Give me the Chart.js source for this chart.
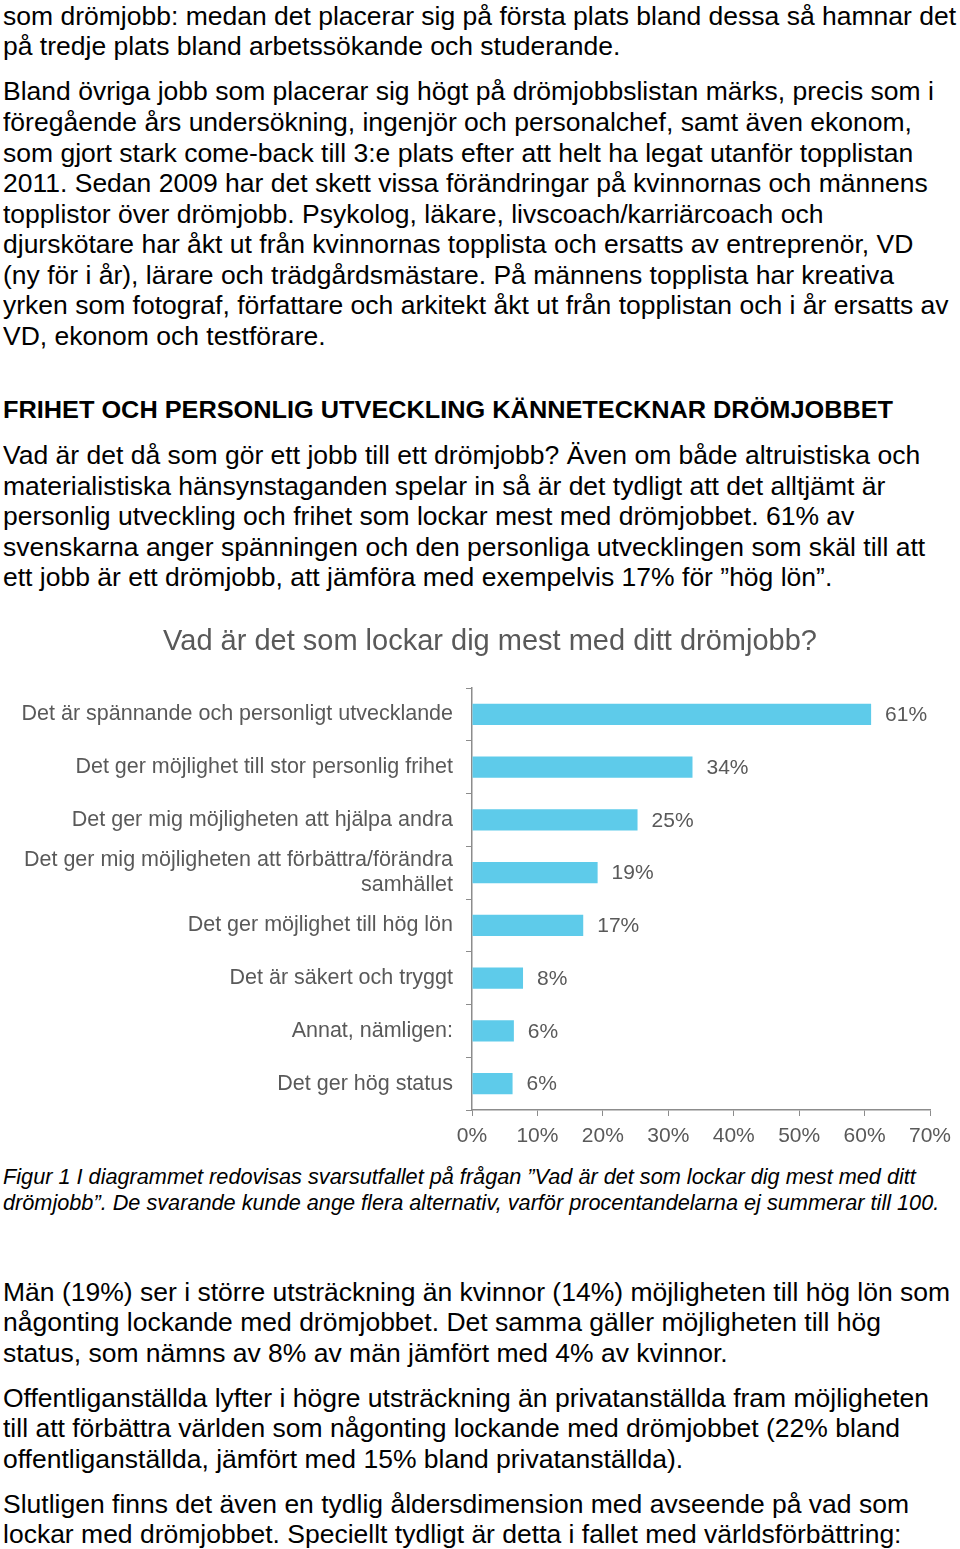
<!DOCTYPE html>
<html>
<head>
<meta charset="utf-8">
<script src="https://cdn.jsdelivr.net/npm/chart.js@4/dist/chart.umd.min.js"></script>
<style>
  html, body { margin: 0; padding: 0; background: #fff; }
  body { width: 960px; height: 1549px; position: relative; overflow: hidden; font-family: "Liberation Sans", Arial, sans-serif; color: #000; }
  .ln { position: absolute; left: 3px; white-space: nowrap; font-size: 25px; line-height: 30px; height: 30px; transform: scaleX(1.06); transform-origin: 0 50%; }
  .hd { font-weight: bold; font-size: 23.5px; transform: scaleX(1.077); }
  .cap { font-style: italic; font-size: 21.7px; transform: none; }
  #chartBox { position: absolute; left: 0; top: 615px; width: 960px; height: 545px; }
</style>
</head>
<body>
<div id="text"></div>
<div id="chartBox"><canvas id="c"></canvas></div>
<script>
// ---- Chart data ----
const chartTitle = "Vad är det som lockar dig mest med ditt drömjobb?";
const categories = [
  "Det är spännande och personligt utvecklande",
  "Det ger möjlighet till stor personlig frihet",
  "Det ger mig möjligheten att hjälpa andra",
  ["Det ger mig möjligheten att förbättra/förändra", "samhället"],
  "Det ger möjlighet till hög lön",
  "Det är säkert och tryggt",
  "Annat, nämligen:",
  "Det ger hög status"
];
const shares = [61, 33.7, 25.3, 19.2, 17, 7.8, 6.4, 6.2];
const shareLabels = ["61%", "34%", "25%", "19%", "17%", "8%", "6%", "6%"];
const xTicks = [0, 10, 20, 30, 40, 50, 60, 70];

// ---- Page text (line by line, [centerY, text, class]) ----
const lines = [
  [16, "som drömjobb: medan det placerar sig på första plats bland dessa så hamnar det"],
  [46, "på tredje plats bland arbetssökande och studerande."],
  [91, "Bland övriga jobb som placerar sig högt på drömjobbslistan märks, precis som i"],
  [122, "föregående års undersökning, ingenjör och personalchef, samt även ekonom,"],
  [153, "som gjort stark come-back till 3:e plats efter att helt ha legat utanför topplistan"],
  [183, "2011. Sedan 2009 har det skett vissa förändringar på kvinnornas och männens"],
  [214, "topplistor över drömjobb. Psykolog, läkare, livscoach/karriärcoach och"],
  [244, "djurskötare har åkt ut från kvinnornas topplista och ersatts av entreprenör, VD"],
  [275, "(ny för i år), lärare och trädgårdsmästare. På männens topplista har kreativa"],
  [305, "yrken som fotograf, författare och arkitekt åkt ut från topplistan och i år ersatts av"],
  [336, "VD, ekonom och testförare."],
  [410, "FRIHET OCH PERSONLIG UTVECKLING KÄNNETECKNAR DRÖMJOBBET", "hd"],
  [455, "Vad är det då som gör ett jobb till ett drömjobb? Även om både altruistiska och"],
  [486, "materialistiska hänsynstaganden spelar in så är det tydligt att det alltjämt är"],
  [516, "personlig utveckling och frihet som lockar mest med drömjobbet. 61% av"],
  [547, "svenskarna anger spänningen och den personliga utvecklingen som skäl till att"],
  [577, "ett jobb är ett drömjobb, att jämföra med exempelvis 17% för ”hög lön”."],
  [1177, "Figur 1 I diagrammet redovisas svarsutfallet på frågan ”Vad är det som lockar dig mest med ditt", "cap"],
  [1203, "drömjobb”. De svarande kunde ange flera alternativ, varför procentandelarna ej summerar till 100.", "cap"],
  [1292, "Män (19%) ser i större utsträckning än kvinnor (14%) möjligheten till hög lön som"],
  [1322, "någonting lockande med drömjobbet. Det samma gäller möjligheten till hög"],
  [1353, "status, som nämns av 8% av män jämfört med 4% av kvinnor."],
  [1398, "Offentliganställda lyfter i högre utsträckning än privatanställda fram möjligheten"],
  [1428, "till att förbättra världen som någonting lockande med drömjobbet (22% bland"],
  [1459, "offentliganställda, jämfört med 15% bland privatanställda)."],
  [1504, "Slutligen finns det även en tydlig åldersdimension med avseende på vad som"],
  [1534, "lockar med drömjobbet. Speciellt tydligt är detta i fallet med världsförbättring:"]
];
const host = document.getElementById('text');
lines.forEach(([cy, t, cls]) => {
  const d = document.createElement('div');
  d.className = 'ln' + (cls ? ' ' + cls : '');
  d.style.top = (cy - 15) + 'px';
  d.textContent = t;
  host.appendChild(d);
});

// ---- Chart ----
const GRAY = '#595959';
const AXIS = '#8c8c8c';
const FONT = '"Liberation Sans", Arial, sans-serif';

const valueLabels = {
  id: 'valueLabels',
  afterDatasetsDraw(chart) {
    const ctx = chart.ctx;
    const meta = chart.getDatasetMeta(0);
    ctx.save();
    ctx.font = '21px ' + FONT;
    ctx.fillStyle = GRAY;
    ctx.textAlign = 'left';
    ctx.textBaseline = 'middle';
    meta.data.forEach((bar, i) => {
      ctx.fillText(shareLabels[i], bar.x + 14, bar.y + 1);
    });
    ctx.restore();
  }
};

// Title drawn over the plot's visual centre (offset like the original figure)
const titlePlugin = {
  id: 'offsetTitle',
  afterDraw(chart) {
    const ctx = chart.ctx;
    ctx.save();
    ctx.font = '29px ' + FONT;
    ctx.fillStyle = GRAY;
    ctx.textAlign = 'center';
    ctx.textBaseline = 'middle';
    ctx.fillText(chartTitle, 490, 27);
    ctx.restore();
  }
};

new Chart(document.getElementById('c'), {
  type: 'bar',
  data: {
    labels: categories,
    datasets: [{
      data: shares,
      backgroundColor: '#5ecbea',
      borderWidth: 0,
      categoryPercentage: 1,
      barPercentage: 0.4
    }]
  },
  options: {
    indexAxis: 'y',
    responsive: true,
    maintainAspectRatio: false,
    animation: false,
    layout: { padding: { left: 0, right: 30, top: 73, bottom: 0 } },
    plugins: {
      legend: { display: false },
      tooltip: { enabled: false },
      title: { display: false }
    },
    scales: {
      x: {
        type: 'linear',
        min: 0, max: 70,
        afterBuildTicks(s) { s.ticks = xTicks.map(v => ({ value: v })); },
        afterFit(s) { s.height = 50; },
        grid: { drawOnChartArea: false, drawTicks: true, tickLength: 6, color: AXIS },
        border: { display: true, color: AXIS, width: 1.5 },
        ticks: {
          color: GRAY,
          padding: 8,
          font: { family: FONT, size: 21 },
          callback: v => v + '%'
        }
      },
      y: {
        afterFit(s) { s.width = 472; },
        grid: { offset: true, drawOnChartArea: false, drawTicks: true, tickLength: 6, color: AXIS },
        border: { display: true, color: AXIS, width: 1.5 },
        ticks: {
          autoSkip: false,
          color: GRAY,
          padding: 13,
          font: { family: FONT, size: 21.5, lineHeight: 1.2 }
        }
      }
    }
  },
  plugins: [valueLabels, titlePlugin]
});
</script>
</body>
</html>
